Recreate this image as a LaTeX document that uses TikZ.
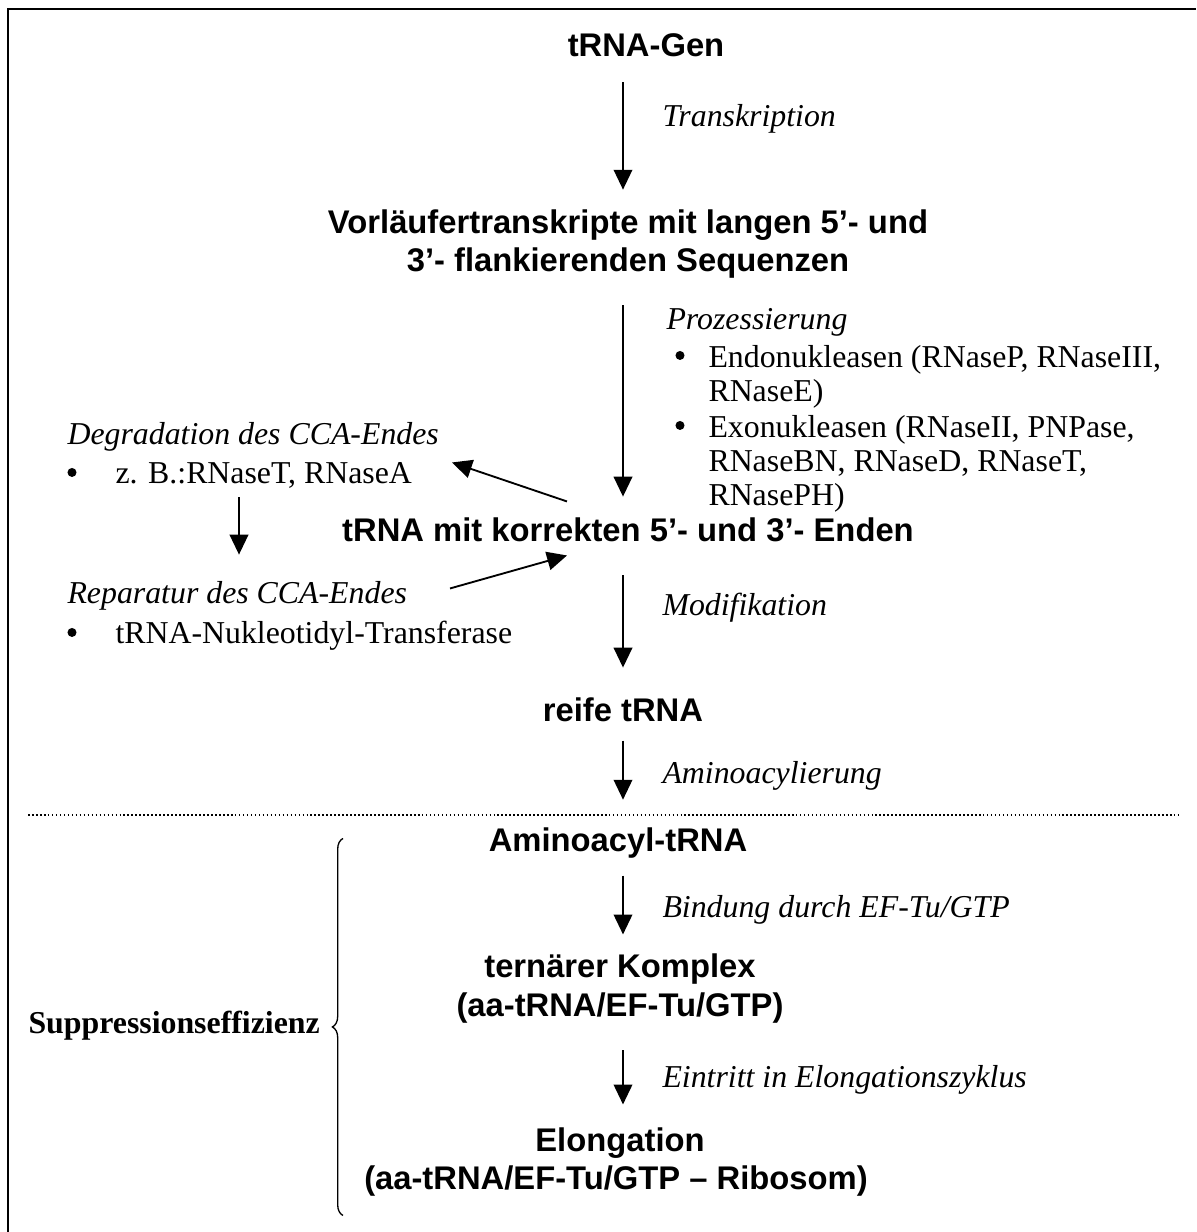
\documentclass[tikz,border=0pt]{standalone}
\usepackage{fontspec}
\setmainfont{Liberation Serif}
\newfontfamily\arialf{Liberation Sans}
\usetikzlibrary{arrows.meta,decorations.pathreplacing}
\begin{document}
\begin{tikzpicture}[x=0.377pt,y=-0.377pt,
  every node/.style={inner sep=0pt,text height=9pt,text depth=3pt,yshift=-1.3pt},
  head/.style={font=\arialf\bfseries\fontsize{12.35}{14}\selectfont,anchor=center},
  lab/.style={font=\itshape\fontsize{12}{14}\selectfont,anchor=west},
  txt/.style={font=\fontsize{12}{14}\selectfont,anchor=west},
  bul/.style={circle,fill=black,minimum size=3.4pt,text height=0pt,text depth=0pt},
  arr/.style={line width=0.7pt,-{Triangle[length=7.5pt,width=7pt]}},
]
\useasboundingbox (0,0) rectangle (1196,1232);
\draw[line width=0.75pt] (8,1232) -- (8,9) -- (1196,9);

% column of arrows
\coordinate (ax) at (623,0);
\coordinate (lx) at (239,0);

% main chain
\node[head] (gen) at (646,45) {tRNA-Gen};
\node[head] (pre1) at (628,222) {Vorläufertranskripte mit langen 5’- und};
\node[head] (pre2) at (628,260) {3’- flankierenden Sequenzen};
\node[head] (korr) at (628,530) {tRNA mit korrekten 5’- und 3’- Enden};
\node[head] (reife) at (623,710) {reife tRNA};
\node[head] (amino) at (618,840) {Aminoacyl-tRNA};
\node[head] (tern1) at (620,966) {ternärer Komplex};
\node[head] (tern2) at (620,1005) {(aa-tRNA/EF-Tu/GTP)};
\node[head] (elo1) at (620,1140) {Elongation};
\node[head] (elo2) at (616,1178) {(aa-tRNA/EF-Tu/GTP – Ribosom)};

% labels
\node[lab] (l1) at (662,115) {Transkription};
\node[lab] (l2) at (666,318) {Prozessierung};
\node[lab] (l3) at (662,604) {Modifikation};
\node[lab] (l4) at (662,772) {Aminoacylierung};
\node[lab] (l5) at (662,906) {Bindung durch EF-Tu/GTP};
\node[lab] (l6) at (662,1076) {Eintritt in Elongationszyklus};

% processing list
\node[bul] (b1) at (680,352) {};
\node[txt] (p1) at (708,356) {Endonukleasen (RNaseP, RNaseIII,};
\node[txt] (p2) at (708,390) {RNaseE)};
\node[bul] (b2) at (680,422) {};
\node[txt] (p3) at (708,426) {Exonukleasen (RNaseII, PNPase,};
\node[txt] (p4) at (708,460) {RNaseBN, RNaseD, RNaseT,};
\node[txt] (p5) at (708,494) {RNasePH)};

% left side
\node[lab] (deg) at (67,433) {Degradation des CCA-Endes};
\node[bul] (b3) at (72,469) {};
\node[txt] (deg2) at (115,472) {z. B.:RNaseT, RNaseA};
\node[lab] (rep) at (67,592) {Reparatur des CCA-Endes};
\node[bul] (b4) at (72,629) {};
\node[txt] (rep2) at (115,632) {tRNA-Nukleotidyl-Transferase};

% arrows main chain
\draw[arr,shorten <=6.6pt,shorten >=7.3pt] (gen.south -| ax) -- (pre1.north -| ax);
\draw[arr,shorten <=9.6pt,shorten >=7.7pt] (pre2.south -| ax) -- (korr.north -| ax);
\draw[arr,shorten <=9.6pt,shorten >=11.1pt] (korr.south -| ax) -- (reife.north -| ax);
\draw[arr,shorten <=4.0pt,shorten >=10.3pt] (reife.south -| ax) -- (amino.north -| ax);
\draw[arr,shorten <=5.9pt,shorten >=7.0pt] (amino.south -| ax) -- (tern1.north -| ax);
\draw[arr,shorten <=9.6pt,shorten >=8.5pt] (tern2.south -| ax) -- (elo1.north -| ax);

% left arrows
\draw[arr,shorten <=2.1pt,shorten >=9.2pt] (deg2.south -| lx) -- (rep.north -| lx);
\coordinate (d1s) at (567,498);
\coordinate (d1e) at (452,459);
\coordinate (d2s) at (450,585);
\coordinate (d2e) at (567,552);
\draw[arr] (d1s) -- (d1e);
\draw[arr] (d2s) -- (d2e);

% separator
\draw[line width=0.6pt,dash pattern=on 0.6pt off 0.9pt] (28,815) -- (1178,815);

% brace and label
\coordinate (bt) at (343,835);
\coordinate (bb) at (343,1212);
\draw[line width=0.5pt,decorate,decoration={brace,amplitude=4pt,mirror}] (bt) -- (bb);
\node[font=\bfseries\fontsize{12}{14}\selectfont,anchor=west] (supp) at (28,1022) {Suppressionseffizienz};
\end{tikzpicture}
\end{document}
